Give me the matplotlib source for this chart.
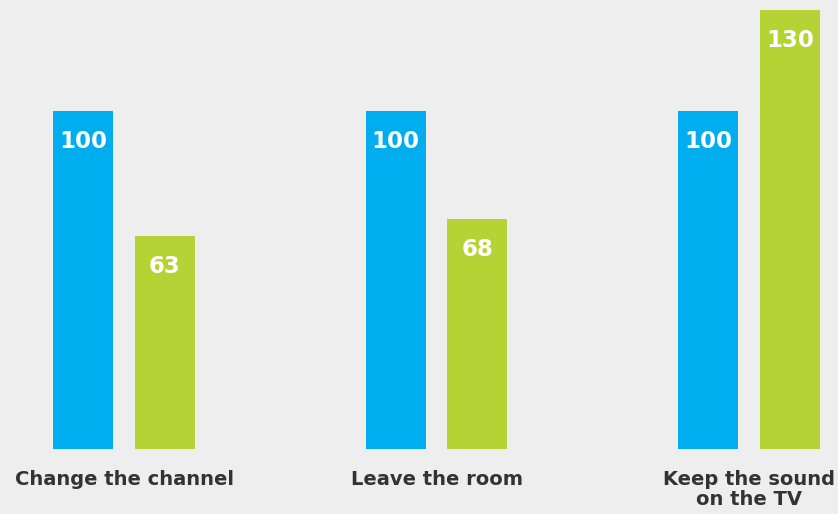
import matplotlib.pyplot as plt
import numpy as np

categories = ['Change the channel', 'Leave the room', 'Keep the sound\non the TV']
blue_values = [100, 100, 100]
green_values = [63, 68, 130]

bg = '#eeeeee'
blue = '#00aeef'
green = '#b5d334'

fig = plt.figure(figsize=(8.38, 5.14), dpi=100, facecolor=bg)
ax = fig.add_axes([0, 0, 1, 1])
ax.set_facecolor(bg)

x = np.arange(len(categories))
w = 0.192
off = 0.131
ax.bar(x - off, blue_values, width=w, color=blue)
ax.bar(x + off, green_values, width=w, color=green)

font = 'DejaVu Sans'
for xi, b, g in zip(x, blue_values, green_values):
    ax.text(xi - off, b - 9, str(b), ha='center', va='center', color='white',
            fontsize=16.5, fontweight='bold', family=font)
    ax.text(xi + off, g - 9, str(g), ha='center', va='center', color='white',
            fontsize=16.5, fontweight='bold', family=font)

for xi, cat in zip(x, categories):
    ax.text(xi, -6.3, cat, ha='center', va='top', color='#333333',
            fontsize=14, fontweight='bold', family=font, linespacing=1.05)

ax.set_xlim(-124 / 312.5, (838 - 124) / 312.5)
ax.set_ylim(-65 / 3.38, 449 / 3.38)
ax.axis('off')

fig.savefig('out.png', dpi=100, facecolor=bg)
